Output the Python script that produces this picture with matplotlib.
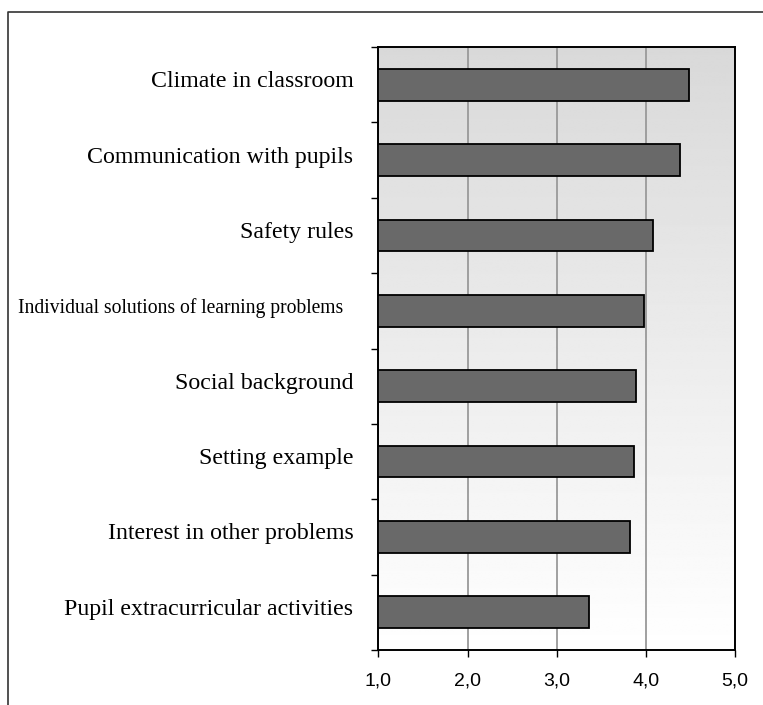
# Horizontal bar chart: average ratings by topic
import matplotlib.pyplot as plt
import numpy as np
from matplotlib.lines import Line2D

categories = [
    "Climate in classroom",
    "Communication with pupils",
    "Safety rules",
    "Individual solutions of learning problems",
    "Social background",
    "Setting example",
    "Interest in other problems",
    "Pupil extracurricular activities",
]
values = [4.48, 4.38, 4.08, 3.98, 3.89, 3.87, 3.82, 3.36]
x_ticks = [1.0, 2.0, 3.0, 4.0, 5.0]
x_labels = ["1,0", "2,0", "3,0", "4,0", "5,0"]

fig = plt.figure(figsize=(7.63, 7.05), dpi=100)
ax = fig.add_axes([0.496, 0.078, 0.4673, 0.8553])

# Background gradient (grey at top, white at bottom)
grad = np.linspace(0.85, 1.0, 256).reshape(-1, 1)
ax.imshow(grad, cmap='gray', vmin=0, vmax=1, aspect='auto',
          extent=[1.0, 5.0, 7.5, -0.5], zorder=0, interpolation='bilinear')

y = np.arange(len(categories))
ax.barh(y, [v - 1.0 for v in values], left=1.0, height=0.42,
        color='#696969', edgecolor='black', linewidth=1.3, zorder=3)

ax.set_xlim(1.0, 5.0)
ax.set_ylim(7.5, -0.5)
ax.set_xticks(x_ticks)
ax.set_xticklabels(x_labels, fontsize=14, family='Liberation Sans')
ax.set_yticks(np.arange(-0.5, 8.0, 1.0))
ax.set_yticklabels([])
ax.tick_params(axis='x', length=5, width=1, pad=11)
ax.tick_params(axis='y', length=5, width=1)
ax.xaxis.grid(True, color='#999999', linewidth=1.3, zorder=1)
ax.set_axisbelow(True)
for sp in ax.spines.values():
    sp.set_linewidth(1.4)

# Category labels
for i, name in enumerate(categories):
    size = 14.1 if name.startswith("Individual") else 17.2
    dx = -35 if name.startswith("Individual") else -25
    ax.annotate(name, xy=(1.0, i), xytext=(dx, 3), textcoords='offset pixels',
                ha='right', va='center', fontsize=size, family='Liberation Serif')

# Outer frame
fig.add_artist(Line2D([8 / 763, 8 / 763, 1.0], [0.0, 1 - 12 / 705, 1 - 12 / 705],
                      transform=fig.transFigure, color='#333333', linewidth=1.2))

fig.savefig("out.png", dpi=100)
plt.close()
